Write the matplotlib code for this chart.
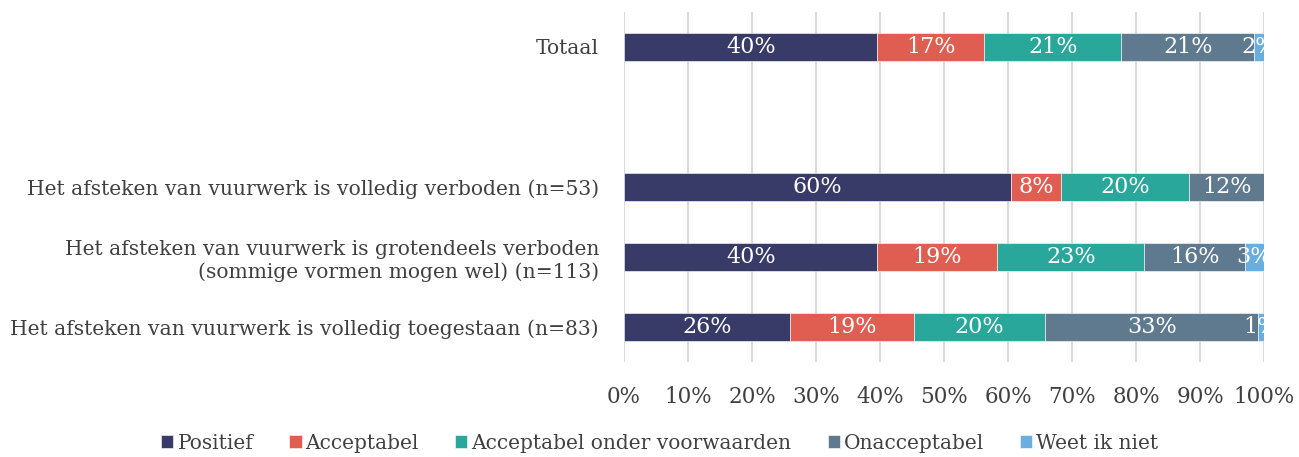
import numpy as np
import matplotlib.pyplot as plt

categories = [
    "Totaal",
    "",
    "Het afsteken van vuurwerk is volledig verboden (n=53)",
    "Het afsteken van vuurwerk is grotendeels verboden\n(sommige vormen mogen wel) (n=113)",
    "Het afsteken van vuurwerk is volledig toegestaan (n=83)",
]
series_names = ["Positief", "Acceptabel", "Acceptabel onder voorwaarden",
                "Onacceptabel", "Weet ik niet"]
# percentages per category (the empty row is the gap)
positief = [39.6, 0, 60.4, 39.6, 26.0]
acceptabel = [16.7, 0, 7.9, 18.7, 19.3]
onder_voorwaarden = [21.4, 0, 20.0, 23.0, 20.5]
onacceptabel = [20.8, 0, 11.7, 15.7, 33.3]
weet_niet = [1.5, 0, 0, 3.0, 0.9]
xticks = [0, 10, 20, 30, 40, 50, 60, 70, 80, 90, 100]

colors = ["#383A68", "#E05D52", "#2AA79B", "#5F7A8E", "#6AAEE0"]
TEXT = "#404040"

plt.rcParams["font.family"] = ["DejaVu Serif"]

fig = plt.figure(figsize=(12.99, 4.57), dpi=100)
ax = fig.add_axes([0.4804, 0.208, 0.4927, 0.766])

y = np.arange(len(categories))
left = np.zeros(len(categories))
all_series = [positief, acceptabel, onder_voorwaarden, onacceptabel, weet_niet]
for name, vals, col in zip(series_names, all_series, colors):
    vals = np.array(vals)
    keep = vals > 0
    ax.barh(y[keep], vals[keep], left=left[keep], height=0.4, color=col,
            label=name, edgecolor="white", linewidth=0.4, zorder=3)
    for yi in y[keep]:
        ax.text(left[yi] + vals[yi] / 2, yi, f"{vals[yi]:.0f}%", ha="center",
                va="center", color="white", fontsize=16, zorder=4)
    left += vals

ax.set_xlim(0, 100)
ax.set_ylim(len(categories) - 0.5, -0.5)
ax.set_xticks(xticks)
ax.set_xticklabels([f"{t}%" for t in xticks], fontsize=15.5, color=TEXT)
ax.set_yticks(y)
ax.set_yticklabels(categories, fontsize=14.6, color=TEXT, linespacing=1.25)
ax.tick_params(axis="both", length=0)
ax.tick_params(axis="x", pad=17)
ax.tick_params(axis="y", pad=18)
for s in ax.spines.values():
    s.set_visible(False)
ax.grid(axis="x", color="#D9D9D9", linewidth=1.5, zorder=0)
ax.set_axisbelow(True)

fig.legend(*ax.get_legend_handles_labels(), loc="center", ncol=5,
           bbox_to_anchor=(0.508, 0.03), frameon=False, fontsize=14.5,
           labelcolor=TEXT, handlelength=0.6, handleheight=0.6,
           handletextpad=0.2, columnspacing=1.8)

fig.savefig("out.png", dpi=100)
